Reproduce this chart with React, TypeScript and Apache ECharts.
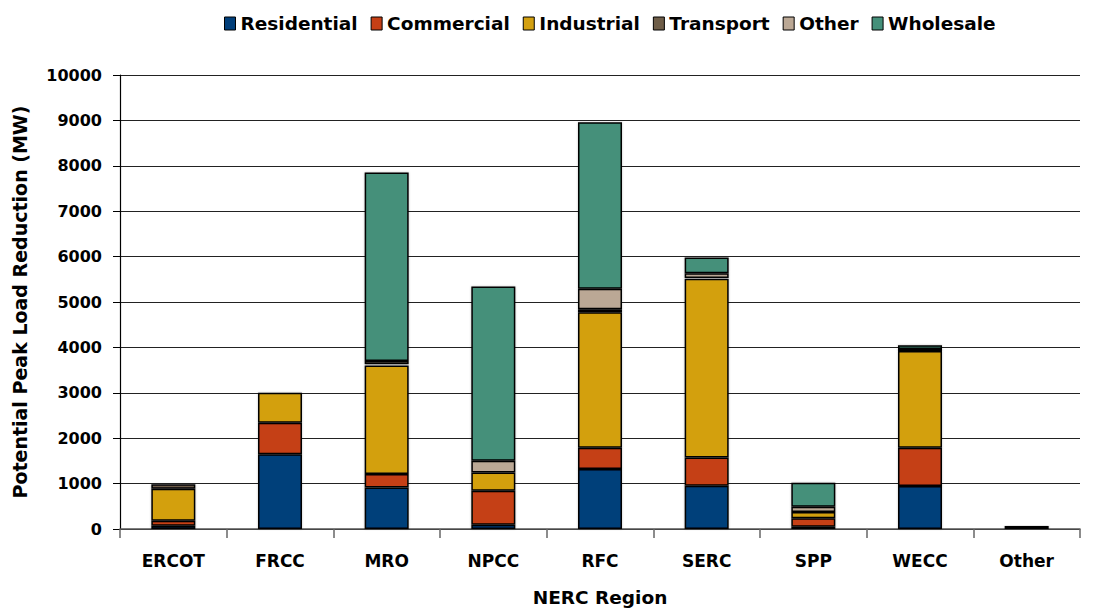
import React, { useEffect, useRef } from "react";
import * as echarts from "echarts";

const categories = ["ERCOT", "FRCC", "MRO", "NPCC", "RFC", "SERC", "SPP", "WECC", "Other"];
const residential = [70, 1645, 916, 95, 1320, 953, 50, 947, 0];
const commercial = [110, 695, 294, 748, 470, 623, 185, 843, 0];
const industrial = [705, 660, 2390, 403, 2985, 3934, 140, 2130, 0];
const transport = [100, 0, 30, 0, 65, 20, 0, 45, 65];
const otherSector = [0, 0, 70, 257, 450, 105, 115, 0, 0];
const wholesale = [0, 0, 4150, 3837, 3670, 345, 530, 85, 0];

const seriesNames = ["Residential", "Commercial", "Industrial", "Transport", "Other", "Wholesale"];
const seriesColors = ["#013F7A", "#C53F15", "#D3A010", "#6E5D48", "#BBA895", "#45907A"];
const seriesData = [residential, commercial, industrial, transport, otherSector, wholesale];

const FONT = "'DejaVu Sans', Verdana, sans-serif";

export default function App() {
  const ref = useRef<HTMLDivElement>(null);
  useEffect(() => {
    document.body.style.margin = "0";
    const chart = echarts.init(ref.current!, undefined, { renderer: "svg" });
    chart.setOption({
      animation: false,
      textStyle: { fontFamily: FONT },
      legend: {
        top: 9,
        left: 219,
        itemWidth: 11,
        itemHeight: 13,
        itemGap: 13,
        icon: "rect",
        textStyle: { fontFamily: FONT, fontWeight: "bold", fontSize: 18.5, color: "#000" },
        data: seriesNames.map((n) => ({ name: n, itemStyle: { borderColor: "#000", borderWidth: 1 } })),
      },
      grid: { left: 120, right: 13, top: 75, bottom: 83, containLabel: false },
      xAxis: {
        type: "category",
        data: categories,
        name: "NERC Region",
        nameLocation: "middle",
        nameGap: 59,
        nameTextStyle: { fontFamily: FONT, fontWeight: "bold", fontSize: 18.5, color: "#000" },
        axisLine: { lineStyle: { color: "#555", width: 1.5 } },
        axisTick: { show: true, length: 9, lineStyle: { color: "#666", width: 1.5 } },
        axisLabel: { margin: 23, fontFamily: FONT, fontWeight: "bold", fontSize: 17, color: "#000" },
      },
      yAxis: {
        type: "value",
        min: 0,
        max: 10000,
        interval: 1000,
        name: "Potential Peak Load Reduction (MW)",
        nameLocation: "middle",
        nameGap: 91,
        nameTextStyle: { fontFamily: FONT, fontWeight: "bold", fontSize: 19, color: "#000" },
        axisLine: { show: true, lineStyle: { color: "#000", width: 1.2 } },
        axisTick: { show: true, length: 7, lineStyle: { color: "#000" } },
        axisLabel: {
          margin: 18,
          fontFamily: FONT,
          fontWeight: "bold",
          fontSize: 16,
          color: "#000",
          formatter: (v: number) => String(v),
        },
        splitLine: { show: true, lineStyle: { color: "#222", width: 1.2 } },
      },
      series: seriesData.map((d, i) => ({
        name: seriesNames[i],
        type: "bar",
        stack: "total",
        barWidth: 44,
        data: d.map((v) => (v === 0 ? null : v)),
        itemStyle: {
          color: seriesColors[i],
          borderColor: "#000",
          borderWidth: 1.5,
          shadowColor: "rgba(0,0,0,0.25)",
          shadowBlur: 2,
        },
        emphasis: { disabled: true },
      })),
    });
    return () => chart.dispose();
  }, []);
  return <div ref={ref} style={{ width: 1093, height: 612 }} />;
}
